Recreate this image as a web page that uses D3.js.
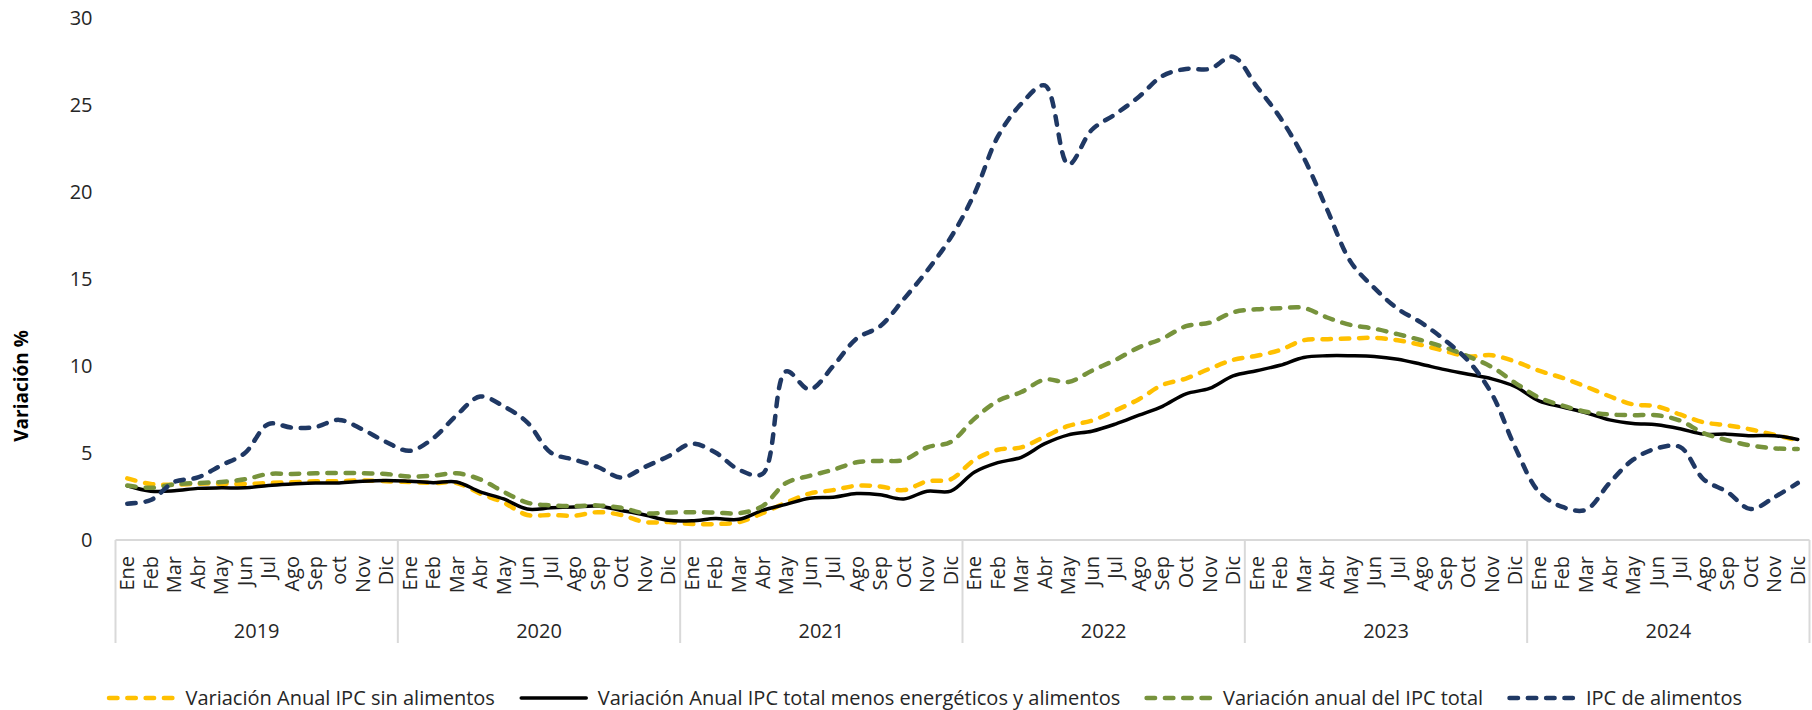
<!DOCTYPE html>
<html>
<head>
<meta charset="utf-8">
<script src="https://cdn.jsdelivr.net/npm/d3@7"></script>
<style>
  body { margin: 0; background: #ffffff; }
  svg { display: block; font-family: "Open Sans", "Noto Sans", sans-serif; }
</style>
</head>
<body>
<svg id="chart" width="1812" height="710"></svg>
<script>
// ---------------- DATA ----------------
const years = ["2019", "2020", "2021", "2022", "2023", "2024"];
const monthLabels2019 = ["Ene","Feb","Mar","Abr","May","Jun","Jul","Ago","Sep","oct","Nov","Dic"];
const monthLabels = ["Ene","Feb","Mar","Abr","May","Jun","Jul","Ago","Sep","Oct","Nov","Dic"];
const yTicks = [0, 5, 10, 15, 20, 25, 30];

const seriesNames = [
  "Variación Anual IPC sin alimentos",
  "Variación Anual IPC total menos energéticos y alimentos",
  "Variación anual del IPC total",
  "IPC de alimentos"
];

// Variación Anual IPC sin alimentos
const sinAlimentos = [
  3.55, 3.22, 3.18, 3.24, 3.24, 3.22, 3.28, 3.32, 3.38, 3.38, 3.43, 3.38,
  3.34, 3.28, 3.28, 2.67, 2.15, 1.44, 1.44, 1.40, 1.60, 1.44, 1.03, 1.03,
  0.92, 0.92, 1.03, 1.54, 2.15, 2.67, 2.87, 3.12, 3.08, 2.87, 3.38, 3.49,
  4.60, 5.19, 5.33, 5.95, 6.56, 6.87, 7.45, 8.10, 8.92, 9.29, 9.85, 10.36,
  10.60, 10.93, 11.49, 11.55, 11.59, 11.63, 11.49, 11.22, 10.87, 10.56, 10.63, 10.26,
  9.74, 9.33, 8.82, 8.27, 7.80, 7.69, 7.22, 6.77, 6.60, 6.36, 6.05, 5.74
];
// Variación Anual IPC total menos energéticos y alimentos
const sinEnergAlim = [
  3.12, 2.81, 2.83, 2.97, 3.00, 3.00, 3.14, 3.22, 3.28, 3.28, 3.38, 3.43,
  3.38, 3.30, 3.34, 2.77, 2.36, 1.78, 1.85, 1.90, 1.95, 1.70, 1.44, 1.13,
  1.11, 1.23, 1.19, 1.70, 2.05, 2.40, 2.46, 2.67, 2.60, 2.36, 2.81, 2.81,
  3.90, 4.45, 4.76, 5.54, 6.05, 6.26, 6.67, 7.18, 7.69, 8.41, 8.72, 9.44,
  9.74, 10.05, 10.50, 10.60, 10.60, 10.56, 10.40, 10.11, 9.80, 9.54, 9.27, 8.82,
  8.00, 7.65, 7.32, 6.91, 6.70, 6.63, 6.40, 6.09, 6.09, 6.00, 6.00, 5.78
];
// Variación anual del IPC total
const ipcTotal = [
  3.14, 3.00, 3.20, 3.28, 3.34, 3.49, 3.80, 3.80, 3.84, 3.86, 3.84, 3.80,
  3.65, 3.70, 3.84, 3.49, 2.77, 2.15, 1.99, 1.95, 1.99, 1.85, 1.54, 1.58,
  1.60, 1.58, 1.54, 1.95, 3.28, 3.69, 4.04, 4.47, 4.55, 4.60, 5.33, 5.64,
  6.97, 8.00, 8.51, 9.23, 9.09, 9.74, 10.36, 11.08, 11.59, 12.30, 12.50, 13.10,
  13.27, 13.33, 13.35, 12.80, 12.37, 12.16, 11.84, 11.49, 11.08, 10.56, 9.95, 9.03,
  8.20, 7.73, 7.38, 7.22, 7.18, 7.18, 6.87, 6.15, 5.74, 5.44, 5.27, 5.23
];
// IPC de alimentos
const ipcAlimentos = [
  2.09, 2.30, 3.34, 3.60, 4.30, 5.00, 6.67, 6.46, 6.50, 6.91, 6.36, 5.64,
  5.13, 5.85, 7.18, 8.25, 7.69, 6.77, 5.03, 4.62, 4.20, 3.59, 4.20, 4.82,
  5.54, 5.03, 4.04, 3.80, 9.70, 8.66, 10.00, 11.59, 12.30, 13.85, 15.50, 17.40,
  19.90, 23.20, 25.10, 26.15, 21.60, 23.60, 24.50, 25.50, 26.70, 27.10, 27.10, 27.80,
  26.10, 24.30, 22.00, 19.00, 16.00, 14.50, 13.30, 12.50, 11.50, 10.30, 8.40, 5.30,
  2.77, 1.90, 1.74, 3.28, 4.62, 5.27, 5.35, 3.49, 2.77, 1.78, 2.46, 3.28
];

// ---------------- CHART ----------------
const categories = [];
years.forEach((yr, yi) => {
  const labs = yi === 0 ? monthLabels2019 : monthLabels;
  labs.forEach(m => categories.push({ year: yr, month: m }));
});

const svg = d3.select("#chart");
const plotLeft = 115.5, plotRight = 1809.5, plotTop = 18.5, plotBottom = 540;
const textColor = "#262626";
const axisColor = "#d9d9d9";

const x = d3.scaleBand().domain(d3.range(categories.length)).range([plotLeft, plotRight]).padding(0);
const y = d3.scaleLinear().domain([0, 30]).range([plotBottom, plotTop]);
const cx = i => x(i) + x.bandwidth() / 2;

// Y axis (labels only)
const yAxis = svg.append("g")
  .attr("transform", `translate(${plotLeft},0)`)
  .call(d3.axisLeft(y).tickValues(yTicks).tickSize(0).tickPadding(23));
yAxis.select(".domain").remove();
yAxis.selectAll("text")
  .attr("font-family", '"Open Sans", sans-serif')
  .attr("font-size", 20)
  .attr("fill", textColor);

// Y title
svg.append("text")
  .attr("transform", `translate(21,386) rotate(-90)`)
  .attr("text-anchor", "middle")
  .attr("dy", "0.35em")
  .attr("font-size", 19)
  .attr("font-weight", "bold")
  .attr("fill", "#000")
  .text("Variación %");

// Category axis box
const axisG = svg.append("g");
axisG.append("line")
  .attr("x1", plotLeft).attr("x2", plotRight)
  .attr("y1", plotBottom).attr("y2", plotBottom)
  .attr("stroke", axisColor).attr("stroke-width", 2);
const boundaries = d3.range(years.length + 1).map(k => k < years.length ? x(k * 12) : plotRight);
axisG.selectAll("line.sep").data(boundaries).join("line")
  .attr("class", "sep")
  .attr("x1", d => d).attr("x2", d => d)
  .attr("y1", plotBottom).attr("y2", 643)
  .attr("stroke", axisColor).attr("stroke-width", 2);

// Month labels
axisG.selectAll("text.month").data(categories).join("text")
  .attr("class", "month")
  .attr("transform", (d, i) => `translate(${cx(i)},556) rotate(-90)`)
  .attr("text-anchor", "end")
  .attr("dy", "0.35em")
  .attr("font-size", 20)
  .attr("fill", textColor)
  .text(d => d.month);

// Year labels
axisG.selectAll("text.year").data(years).join("text")
  .attr("class", "year")
  .attr("x", (d, k) => (boundaries[k] + boundaries[k + 1]) / 2)
  .attr("y", 631)
  .attr("dy", "0.35em")
  .attr("text-anchor", "middle")
  .attr("font-size", 20)
  .attr("fill", textColor)
  .text(d => d);

// Series
const seriesData = [sinAlimentos, sinEnergAlim, ipcTotal, ipcAlimentos];
const seriesStyle = [
  { color: "#FFC000", width: 4.5, dash: "8.5,9.8" },
  { color: "#000000", width: 3.5, dash: null },
  { color: "#77933C", width: 4.5, dash: "8.5,9.8" },
  { color: "#1F3864", width: 4.5, dash: "8.5,9.8" }
];
const line = d3.line()
  .x((d, i) => cx(i))
  .y(d => y(d))
  .curve(d3.curveCatmullRom.alpha(0.5));

seriesData.forEach((vals, s) => {
  const st = seriesStyle[s];
  svg.append("path")
    .datum(vals)
    .attr("d", line)
    .attr("fill", "none")
    .attr("stroke", st.color)
    .attr("stroke-width", st.width)
    .attr("stroke-linecap", "round")
    .attr("stroke-linejoin", "round")
    .attr("stroke-dasharray", st.dash);
});

// Legend
const legY = 698, sampleLen = 65, sampleGap = 9.5;
const legStart = 109, legEnd = 1742;
const legG = svg.append("g");
const items = seriesNames.map((name, s) => {
  const g = legG.append("g");
  const st = seriesStyle[s];
  g.append("line")
    .attr("x1", 0).attr("x2", sampleLen)
    .attr("y1", legY).attr("y2", legY)
    .attr("stroke", st.color)
    .attr("stroke-width", st.width)
    .attr("stroke-linecap", "round")
    .attr("stroke-dasharray", st.dash);
  const t = g.append("text")
    .attr("x", sampleLen + sampleGap + 2)
    .attr("y", legY)
    .attr("dy", "0.35em")
    .attr("font-size", 20)
    .attr("fill", textColor)
    .text(name);
  return { g, w: sampleLen + sampleGap + 2 + t.node().getComputedTextLength() };
});
const totalW = d3.sum(items, d => d.w);
const gap = (legEnd - legStart - totalW) / (items.length - 1);
let cur = legStart;
items.forEach(it => {
  it.g.attr("transform", `translate(${cur},0)`);
  cur += it.w + gap;
});
</script>
</body>
</html>
